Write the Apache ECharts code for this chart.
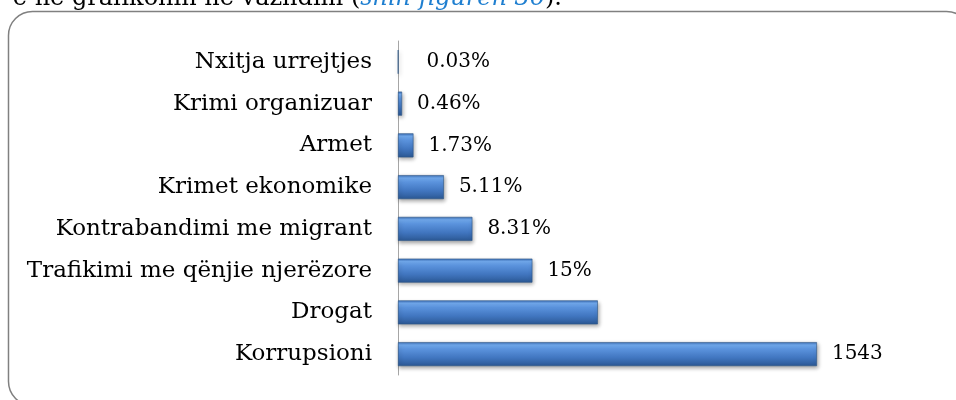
<!DOCTYPE html>
<html>
<head>
<meta charset="utf-8">
<script src="https://cdn.jsdelivr.net/npm/echarts@6/dist/echarts.min.js"></script>
<style>
  html, body { margin: 0; padding: 0; background: #fff; }
  #chart { width: 956px; height: 400px; }
</style>
</head>
<body>
<div id="chart"></div>
<script>
var categories = ['Nxitja urrejtjes', 'Krimi organizuar', 'Armet', 'Krimet ekonomike',
  'Kontrabandimi me migrant', 'Trafikimi me qënjie njerëzore', 'Drogat', 'Korrupsioni'];
var values = [1, 15, 57, 169, 274, 495, 736, 1543];
var valueLabels = ['0.03%', '0.46%', '1.73%', '5.11%', '8.31%', '15%', '', '1543'];

var chart = echarts.init(document.getElementById('chart'));

var barFill = new echarts.graphic.LinearGradient(0, 0, 0, 1, [
  { offset: 0, color: '#3a6db4' },
  { offset: 0.12, color: '#72abf0' },
  { offset: 0.3, color: '#5a92dc' },
  { offset: 0.65, color: '#4176c0' },
  { offset: 1, color: '#2b5894' }
]);

// the first label sits a bit further out in the original
var barData = values.map(function (v, i) {
  return i === 0 ? { value: v, label: { distance: 28 } } : v;
});

chart.setOption({
  animation: false,
  graphic: [
    {
      type: 'rect',
      shape: { x: 8.5, y: 11.5, width: 962, height: 394, r: 24 },
      style: { fill: 'none', stroke: '#808080', lineWidth: 1.5 },
      silent: true
    },
    {
      type: 'text',
      x: 562,
      y: 11,
      style: {
        text: '{a|ë në grafikonin në vazhdim (}{b|shih figurën 36}{a|).}',
        align: 'right',
        verticalAlign: 'bottom',
        rich: {
          a: { fontFamily: 'DejaVu Serif', fontSize: 24, fill: '#000' },
          b: { fontFamily: 'DejaVu Serif', fontSize: 24, fontStyle: 'italic', fill: '#1f7fd0' }
        }
      },
      silent: true
    }
  ],
  grid: { left: 398, top: 41, width: 543, height: 334 },
  xAxis: {
    type: 'value',
    min: 0,
    max: 2000,
    show: false
  },
  yAxis: {
    type: 'category',
    inverse: true,
    data: categories,
    axisLine: { show: true, lineStyle: { color: '#a6a6a6', width: 1 } },
    axisTick: { show: false },
    axisLabel: {
      margin: 26,
      color: '#000',
      fontFamily: 'DejaVu Serif',
      fontSize: 23
    }
  },
  series: [{
    type: 'bar',
    data: barData,
    barWidth: 24,
    itemStyle: {
      color: barFill,
      borderColor: '#2b5586',
      borderWidth: 0.6,
      shadowColor: 'rgba(0,0,0,0.35)',
      shadowBlur: 4,
      shadowOffsetX: 1,
      shadowOffsetY: 2
    },
    label: {
      show: true,
      position: 'right',
      distance: 15,
      color: '#000',
      fontFamily: 'DejaVu Serif',
      fontSize: 20,
      formatter: function (p) { return valueLabels[p.dataIndex]; }
    }
  }]
});
</script>
</body>
</html>
